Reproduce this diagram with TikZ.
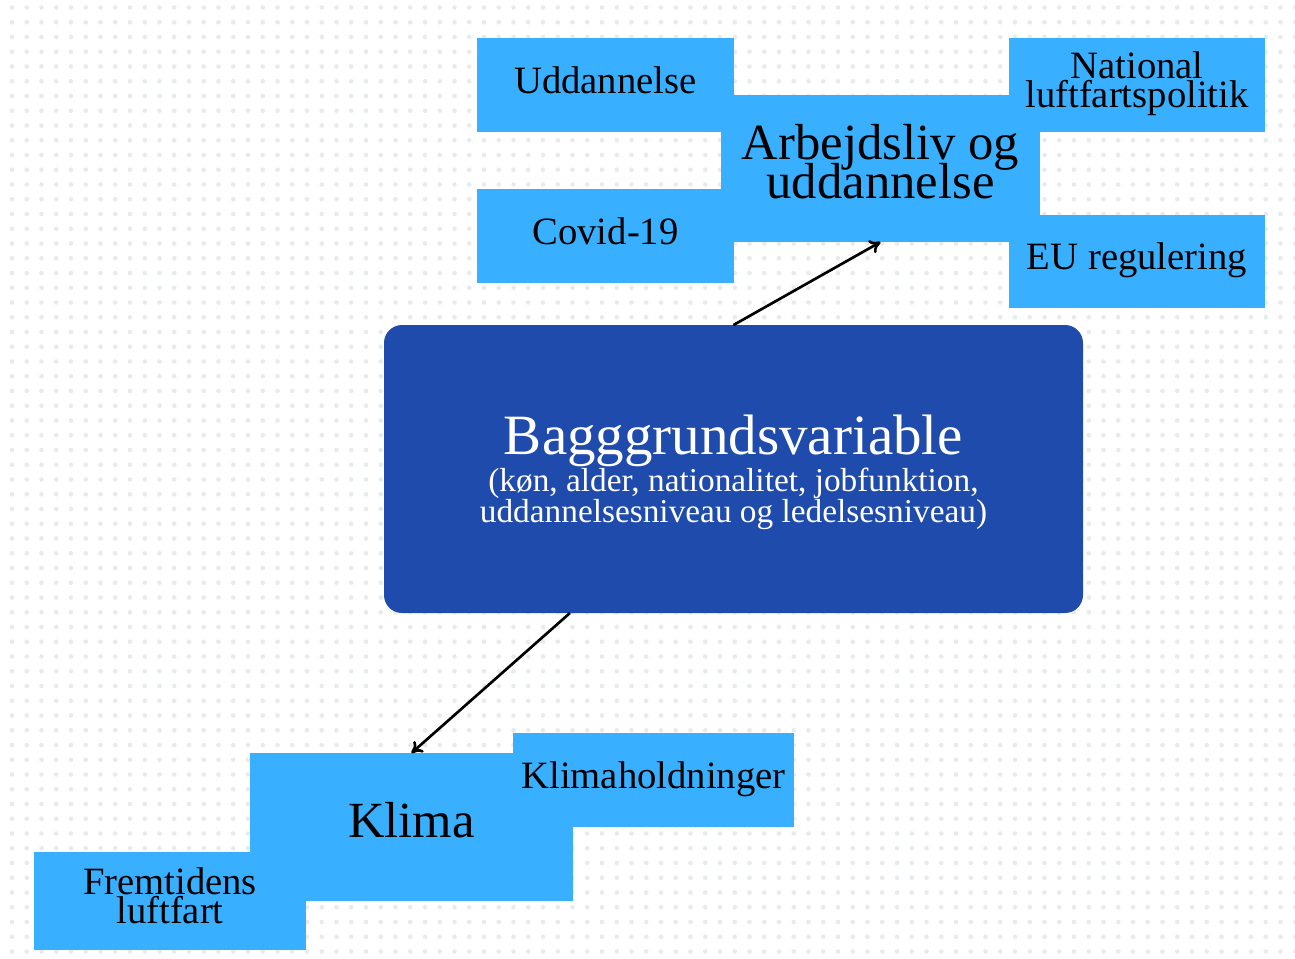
\documentclass[tikz,border=0pt]{standalone}
\usepackage{fontspec}
\setmainfont{Liberation Serif}
\usepackage{tikz}
\usetikzlibrary{calc}
\usetikzlibrary{arrows.meta}
\definecolor{partblue}{RGB}{56,176,255}
\definecolor{bgblue}{RGB}{31,75,172}
\definecolor{dotgray}{RGB}{230,235,239}
\newcommand\tightlines{\lineskiplimit -30pt\relax}
\tikzset{every picture/.style={line width=0.75pt}}
\tikzset{
  part/.style={fill=partblue, draw=none, inner sep=0pt, outer sep=0pt, align=center,
    text depth=8.1pt, font={\fontsize{29}{21.3}\selectfont\tightlines}},
  hub/.style={part, text depth=10.6pt, font={\fontsize{38}{29.25}\selectfont\tightlines}},
  bgbox/.style={fill=bgblue, draw=none, rounded corners=13.5pt, inner sep=0pt, outer sep=0pt,
    align=center, text=white, font=\fontsize{25}{23}\selectfont},
  link/.style={-{To[length=8pt,width=11pt]}, line width=2pt, color=black}
}

\begin{document}
\begin{tikzpicture}[x=0.75pt,y=0.75pt,yscale=-1,xscale=1]
      \useasboundingbox (0,0) rectangle (1295,958);
      % dotted background
      \foreach \i in {0,...,87}
        \foreach \j in {0,...,64}
          \fill [dotgray] (12+14.75*\i,7.5+14.75*\j) circle (1.75pt);
      % Arbejdsliv og uddannelse
      \draw (880.5,168.5) node (arbejd) [hub, minimum width=239.25pt, minimum height=110.25pt] {Arbejdsliv og\\uddannelse};
      \draw (605.5,85) node (udd) [part, minimum width=192.75pt, minimum height=70.5pt] {Uddannelse};
      \draw (605.5,236) node (covid) [part, minimum width=192.75pt, minimum height=70.5pt] {Covid-19};
      \draw (1137,85) node (natpol) [part, minimum width=192pt, minimum height=70.5pt] {National\\luftfartspolitik};
      \draw (1137,261.5) node (eureg) [part, minimum width=192pt, minimum height=69.75pt] {EU regulering};
      % Klima
      \draw (411.5,827) node (klima) [hub, minimum width=242.25pt, minimum height=111pt] {Klima};
      \draw (170,901) node (fremt) [part, minimum width=204pt, minimum height=73.5pt] {Fremtidens\\luftfart};
      \draw (653.5,780) node (kholdn) [part, minimum width=210.75pt, minimum height=70.5pt] {Klimaholdninger};
      % Bagggrundsvariable
      \draw (733.5,469) node (bagg) [bgbox, text depth=1pt, minimum width=524.25pt, minimum height=216pt]
            {{\fontsize{42.75}{27}\selectfont Bagggrundsvariable}\\(køn, alder, nationalitet, jobfunktion,\\uddannelsesniveau og ledelsesniveau)};
      \draw [link] (bagg.north) -- (arbejd.south);
      \draw [link] ($(bagg.south west)!0.266!(bagg.south east)$) -- (klima.north);
\end{tikzpicture}
\end{document}
